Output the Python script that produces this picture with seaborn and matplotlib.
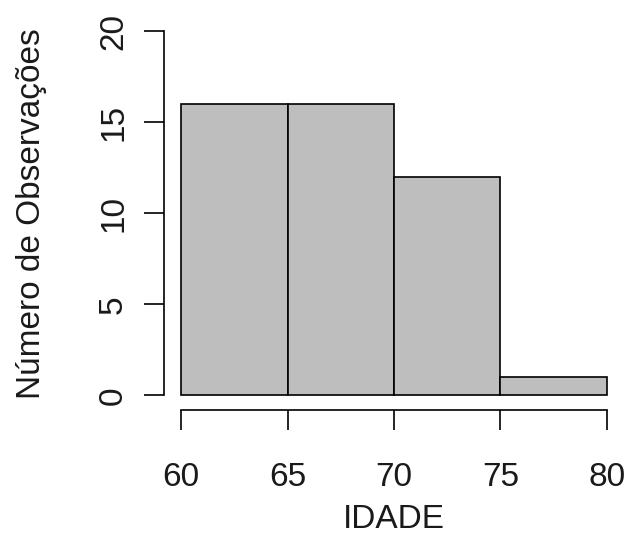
import numpy as np
import matplotlib
matplotlib.use("Agg")
import matplotlib.pyplot as plt
import seaborn as sns

# histograma de idades (contagens)
bin_edges = [60, 65, 70, 75, 80]
bin_mids = [62.5, 67.5, 72.5, 77.5]
counts = [16, 16, 12, 1]
x_ticks = [60, 65, 70, 75, 80]
y_ticks = [0, 5, 10, 15, 20]

sns.set_style("white")
plt.rcParams['font.family'] = ['Liberation Sans', 'DejaVu Sans']

fig = plt.figure(figsize=(6.26, 5.35), dpi=100)
ax = fig.add_axes([0.262, 0.2336, 0.7348, 0.7357])

sns.histplot(x=bin_mids, weights=counts, bins=bin_edges, ax=ax,
             color='#BEBEBE', edgecolor='black', linewidth=1.2, alpha=1)

# eixos estilo R (4% de folga, linha so entre os ticks)
ax.set_xlim(59.2, 80.8)
ax.set_ylim(-0.8, 20.8)
ax.set_xticks(x_ticks)
ax.set_yticks(y_ticks)
for s in ['top', 'right']:
    ax.spines[s].set_visible(False)
ax.spines['bottom'].set_bounds(60, 80)
ax.spines['left'].set_bounds(0, 20)
for s in ['bottom', 'left']:
    ax.spines[s].set_linewidth(1.2)
    ax.spines[s].set_color('black')

ax.tick_params(axis='both', direction='out', length=14.4, width=1.2,
               color='black', labelsize=24, labelcolor='#1a1a1a',
               bottom=True, left=True)
ax.tick_params(axis='x', pad=23)
ax.tick_params(axis='y', pad=10.8, labelrotation=90)
for lab in ax.get_yticklabels():
    lab.set_va('center')

ax.set_xlabel('IDADE', fontsize=24, color='#1a1a1a', labelpad=8)
ax.set_ylabel('Número de Observações', fontsize=24, color='#1a1a1a', labelpad=37)

fig.savefig('out.png', dpi=100)
